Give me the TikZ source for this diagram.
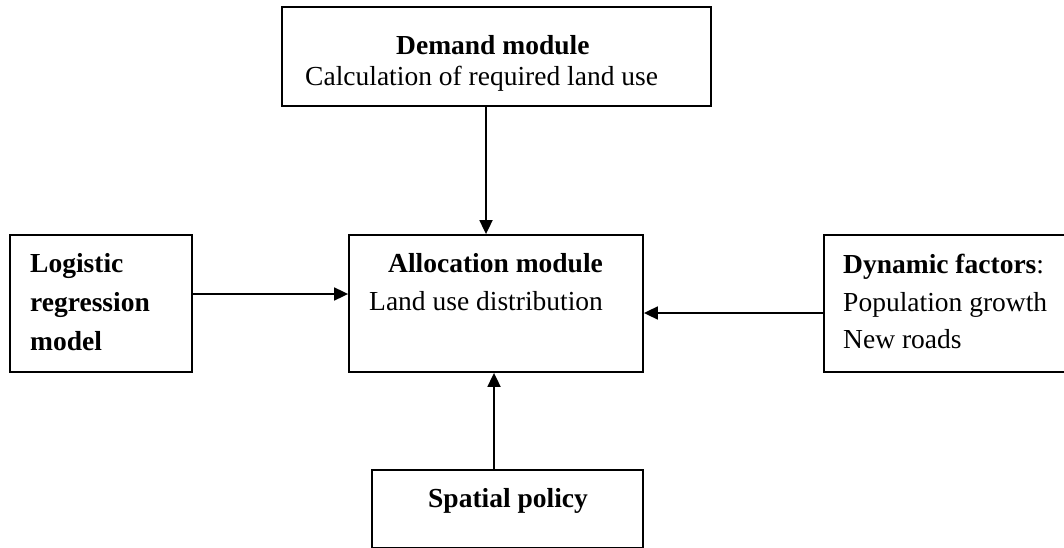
\documentclass[tikz,border=0pt]{standalone}
\usepackage{fontspec}
\setmainfont{Liberation Serif}
\usetikzlibrary{arrows.meta}
\begin{document}
\begin{tikzpicture}[x=1pt,y=-1pt,
  box/.style={draw=black,line width=1.8pt,inner sep=0pt,rectangle},
  txt/.style={inner sep=0pt,anchor=base west,font=\fontsize{27.5}{33}\selectfont},
  arr/.style={line width=1.8pt,-{Triangle[length=14pt,width=13pt]}}]
\useasboundingbox (0,0) rectangle (1064,548);
\clip (0,0) rectangle (1064,548);
\fill[white] (0,0) rectangle (1064,548);
% boxes
\node[box,minimum width=429pt,minimum height=99pt] (demand) at (496.5,56.5) {};
\node[box,minimum width=294pt,minimum height=137pt] (alloc) at (496,303.5) {};
\node[box,minimum width=182pt,minimum height=137pt] (logit) at (101,303.5) {};
\node[box,minimum width=266pt,minimum height=137pt] (dyn) at (957,303.5) {};
\node[box,minimum width=271pt,minimum height=78pt] (spatial) at (507.5,509) {};
% labels
\node[txt] (dm1) at (396,55) {\textbf{Demand module}};
\node[txt] (dm2) at (305,86) {Calculation of required land use};
\node[txt] (al1) at (388,272) {\textbf{Allocation module}};
\node[txt] (al2) at (369,310) {Land use distribution};
\node[txt] (lg1) at (30,272) {\textbf{Logistic}};
\node[txt] (lg2) at (30,311) {\textbf{regression}};
\node[txt] (lg3) at (30,350) {\textbf{model}};
\node[txt] (dy1) at (843,273) {\textbf{Dynamic factors}:};
\node[txt] (dy2) at (843,311) {Population growth};
\node[txt] (dy3) at (843,348) {New roads};
\node[txt] (sp1) at (428,507) {\textbf{Spatial policy}};
% connectors
\draw[arr] ([xshift=-10.5pt]demand.south) -- ([xshift=-10pt]alloc.north);
\draw[arr] ([yshift=9.5pt]logit.east) -- ([yshift=9.5pt]alloc.west);
\draw[arr] ([yshift=-9.5pt]dyn.west) -- ([yshift=-9.5pt]alloc.east);
\draw[arr] ([xshift=-2pt]alloc.south |- spatial.north) -- ([xshift=-2pt]alloc.south);
\end{tikzpicture}
\end{document}
